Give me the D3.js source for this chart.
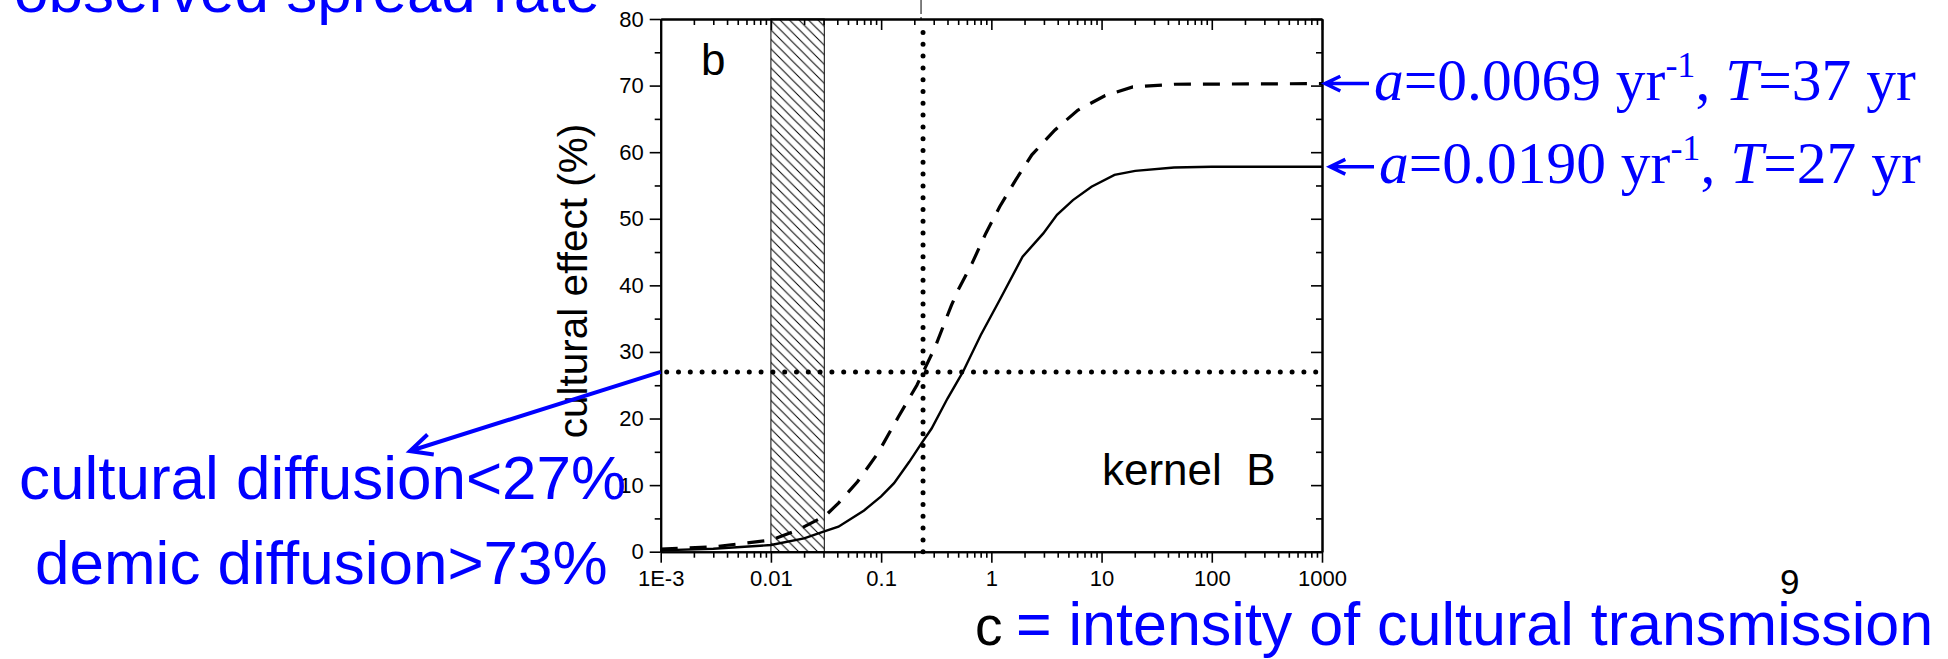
<!DOCTYPE html>
<html>
<head>
<meta charset="utf-8">
<script src="https://cdn.jsdelivr.net/npm/d3@7/dist/d3.min.js"></script>
<style>
  body { margin: 0; background: #fff; }
  svg { display: block; font-family: "Liberation Sans", Arial, sans-serif; }
</style>
</head>
<body>
<svg width="1948" height="659"></svg>
<script>
// Данные, считанные с рисунка
// сплошная кривая: a=0.0190 yr-1, T=27 yr
const solidC      = [0.001, 0.003, 0.01, 0.02, 0.03, 0.041, 0.07, 0.1, 0.131, 0.18, 0.233, 0.287, 0.4, 0.552, 0.8, 1.19, 1.92, 2.96, 3.94, 5.5, 8.1, 13.1, 20.2, 45.5, 100, 1000];
const solidEffect = [0.2, 0.45, 1.0, 2.0, 3.0, 3.75, 6.2, 8.3, 10.3, 13.5, 16.3, 18.5, 23.0, 27.0, 32.5, 37.8, 44.3, 47.8, 50.6, 52.8, 54.8, 56.6, 57.2, 57.7, 57.8, 57.8];
// пунктирная кривая: a=0.0069 yr-1, T=37 yr
const dashedC      = [0.001, 0.0031, 0.01, 0.0175, 0.031, 0.041, 0.061, 0.0935, 0.144, 0.211, 0.31, 0.434, 0.5, 0.668, 0.89, 1.19, 1.66, 2.33, 3.76, 6.07, 10.8, 19.2, 45.5, 1000];
const dashedEffect = [0.4, 0.75, 1.75, 3.25, 5.36, 7.3, 10.5, 14.8, 20.3, 25.0, 30.8, 37.0, 39.3, 43.3, 47.8, 51.8, 55.8, 59.6, 63.3, 66.3, 68.5, 69.8, 70.2, 70.3];

const xMajorTicks = [0.001, 0.01, 0.1, 1, 10, 100, 1000];
const xTickLabels = ["1E-3", "0.01", "0.1", "1", "10", "100", "1000"];
const yMajorTicks = [0, 10, 20, 30, 40, 50, 60, 70, 80];
const yMinorTicks = [5, 15, 25, 35, 45, 55, 65, 75];

const hatchRange = [0.01, 0.0305];  // заштрихованная полоса
const observedC = 0.24;             // вертикальная точечная линия
const culturalLimit = 27;           // горизонтальная точечная линия

const BLUE = "#0000ff";

const svg = d3.select("svg");

const attr_area = { left: 660.7, right: 1322, top: 19, bottom: 551.7 };

const scX = d3.scaleLog().domain([0.001, 1000]).range([attr_area.left, attr_area.right]);
const scY = d3.scaleLinear().domain([0, 80]).range([attr_area.bottom, attr_area.top]);

// мелкие деления логарифмической оси
let xMinorTicks = [];
for (let d of xMajorTicks.slice(0, -1)) {
    for (let k = 2; k <= 9; k++) xMinorTicks.push(d * k);
}

// штриховка
const hs = 9.5;
const defs = svg.append("defs");
defs.append("pattern")
    .attr("id", "hatch")
    .attr("patternUnits", "userSpaceOnUse")
    .attr("width", hs).attr("height", hs)
    .append("path")
    .attr("d", `M-1,-1 L${hs + 1},${hs + 1} M${-hs / 2 - 1},${hs / 2 - 1} L${hs / 2 + 1},${1.5 * hs + 1} M${hs / 2 - 1},${-hs / 2 - 1} L${1.5 * hs + 1},${hs / 2 + 1}`)
    .attr("stroke", "#000")
    .attr("stroke-width", 1);

svg.append("rect")
    .attr("x", scX(hatchRange[0]))
    .attr("y", scY(80))
    .attr("width", scX(hatchRange[1]) - scX(hatchRange[0]))
    .attr("height", scY(0) - scY(80))
    .attr("fill", "url(#hatch)")
    .attr("stroke", "#000")
    .attr("stroke-width", 1);

// точечные линии
function dotted(x1, y1, x2, y2) {
    svg.append("line")
        .attr("x1", x1).attr("y1", y1).attr("x2", x2).attr("y2", y2)
        .attr("stroke", "#000")
        .attr("stroke-width", 5)
        .attr("stroke-linecap", "round")
        .attr("stroke-dasharray", "0,11.8");
}
dotted(scX(observedC), scY(0), scX(observedC), scY(80) + 4);
dotted(scX(0.001) + 6, scY(culturalLimit), scX(1000), scY(culturalLimit));

// тонкая линия над графиком
svg.append("line")
    .attr("x1", scX(observedC) - 2).attr("x2", scX(observedC) - 2)
    .attr("y1", 0).attr("y2", scY(80))
    .attr("stroke", "#000")
    .attr("stroke-width", 1)
    .attr("stroke-dasharray", "14,3");

// кривые
function createCurve(cs, vs, dash, width) {
    const line = d3.line()
        .x(d => scX(d[0]))
        .y(d => scY(d[1]));
    svg.append("path")
        .datum(cs.map((c, i) => [c, vs[i]]))
        .attr("fill", "none")
        .attr("stroke", "#000")
        .attr("stroke-width", width)
        .attr("stroke-dasharray", dash)
        .attr("d", line);
}
createCurve(dashedC, dashedEffect, "17,12", 3.2);
createCurve(solidC, solidEffect, null, 2.4);

// оси
function styleAxis(g) {
    g.select(".domain").attr("stroke-width", 2);
    g.selectAll(".tick line").attr("stroke-width", 1.6);
    g.selectAll("text")
        .attr("font-family", "'Liberation Sans', Arial, sans-serif")
        .attr("font-size", 22)
        .attr("fill", "#000");
}

function drawAxes() {
    const bottom = `translate(0, ${attr_area.bottom})`;
    const top = `translate(0, ${attr_area.top})`;
    const left = `translate(${attr_area.left}, 0)`;
    const right = `translate(${attr_area.right}, 0)`;

    svg.append("g").attr("transform", bottom)
        .call(d3.axisBottom(scX).tickValues(xMinorTicks).tickSize(6).tickSizeOuter(0).tickFormat(""))
        .call(styleAxis);
    svg.append("g").attr("transform", bottom)
        .call(d3.axisBottom(scX).tickValues(xMajorTicks).tickSize(11).tickSizeOuter(0).tickPadding(8)
            .tickFormat((d, i) => xTickLabels[i]))
        .call(styleAxis);

    svg.append("g").attr("transform", top)
        .call(d3.axisTop(scX).tickValues(xMinorTicks).tickSize(-6).tickSizeOuter(0).tickFormat(""))
        .call(styleAxis);
    svg.append("g").attr("transform", top)
        .call(d3.axisTop(scX).tickValues(xMajorTicks).tickSize(-11).tickSizeOuter(0).tickFormat(""))
        .call(styleAxis);

    svg.append("g").attr("transform", left)
        .call(d3.axisLeft(scY).tickValues(yMinorTicks).tickSize(6).tickSizeOuter(0).tickFormat(""))
        .call(styleAxis);
    svg.append("g").attr("transform", left)
        .call(d3.axisLeft(scY).tickValues(yMajorTicks).tickSize(11).tickSizeOuter(0).tickPadding(6))
        .call(styleAxis);

    svg.append("g").attr("transform", right)
        .call(d3.axisRight(scY).tickValues(yMinorTicks).tickSize(-6).tickSizeOuter(0).tickFormat(""))
        .call(styleAxis);
    svg.append("g").attr("transform", right)
        .call(d3.axisRight(scY).tickValues(yMajorTicks).tickSize(-11).tickSizeOuter(0).tickFormat(""))
        .call(styleAxis);
}
drawAxes();

// подпись оси Y
svg.append("text")
    .attr("transform", "translate(587, 281) rotate(-90)")
    .attr("text-anchor", "middle")
    .attr("font-size", 40.5)
    .text("cultural effect (%)");

// подписи внутри графика
svg.append("text").attr("x", 701).attr("y", 75).attr("font-size", 44).text("b");
svg.append("text").attr("x", 1102).attr("y", 485).attr("font-size", 44)
    .attr("xml:space", "preserve").style("white-space", "pre").text("kernel  B");

// номер слайда
svg.append("text").attr("x", 1780).attr("y", 594).attr("font-size", 35).text("9");

// синие надписи слева и снизу
svg.append("text").attr("x", 14).attr("y", 12).attr("font-size", 62).attr("fill", BLUE)
    .text("observed spread rate");
svg.append("text").attr("x", 19).attr("y", 499).attr("font-size", 62).attr("fill", BLUE)
    .text("cultural diffusion<27%");
svg.append("text").attr("x", 35).attr("y", 584).attr("font-size", 62).attr("fill", BLUE)
    .text("demic diffusion>73%");

svg.append("text").attr("x", 975).attr("y", 645).attr("font-size", 55).attr("fill", "#000").text("c");
svg.append("text").attr("x", 1016).attr("y", 645).attr("font-size", 61).attr("fill", BLUE)
    .text("= intensity of cultural transmission");

// синяя стрелка к 27%
function arrowHead(x, y, angle, len) {
    const a1 = angle + Math.PI / 7, a2 = angle - Math.PI / 7;
    return `M${x + len * Math.cos(a1)},${y + len * Math.sin(a1)} L${x},${y} L${x + len * Math.cos(a2)},${y + len * Math.sin(a2)}`;
}
{
    const x0 = scX(0.001), y0 = scY(culturalLimit);
    const x1 = 410, y1 = 451;
    const ang = Math.atan2(y0 - y1, x0 - x1);
    svg.append("path")
        .attr("d", `M${x0},${y0} L${x1},${y1} ` + arrowHead(x1, y1, ang, 24))
        .attr("fill", "none")
        .attr("stroke", BLUE)
        .attr("stroke-width", 4);
}

// стрелки и подписи справа
const labels = [
    { value: dashedEffect[dashedEffect.length - 1], a: "=0.0069 yr", T: "=37 yr", dx: 3 },
    { value: solidEffect[solidEffect.length - 1], a: "=0.0190 yr", T: "=27 yr", dx: 8 }
];
for (let l of labels) {
    const y = scY(l.value);
    const x = attr_area.right + l.dx;
    svg.append("path")
        .attr("d", `M${x},${y} L${x + 44},${y} ` + arrowHead(x, y, 0, 17))
        .attr("fill", "none")
        .attr("stroke", BLUE)
        .attr("stroke-width", 3.5);
    const t = svg.append("text")
        .attr("x", x + 49).attr("y", y + 16)
        .attr("font-family", "'Liberation Serif', 'Times New Roman', serif")
        .attr("font-size", 59.5)
        .attr("fill", BLUE);
    t.append("tspan").attr("font-style", "italic").text("a");
    t.append("tspan").text(l.a);
    t.append("tspan").attr("font-size", 36).attr("dy", -23).text("-1");
    t.append("tspan").attr("dy", 23).text(", ");
    t.append("tspan").attr("font-style", "italic").text("T");
    t.append("tspan").text(l.T);
}
</script>
</body>
</html>
